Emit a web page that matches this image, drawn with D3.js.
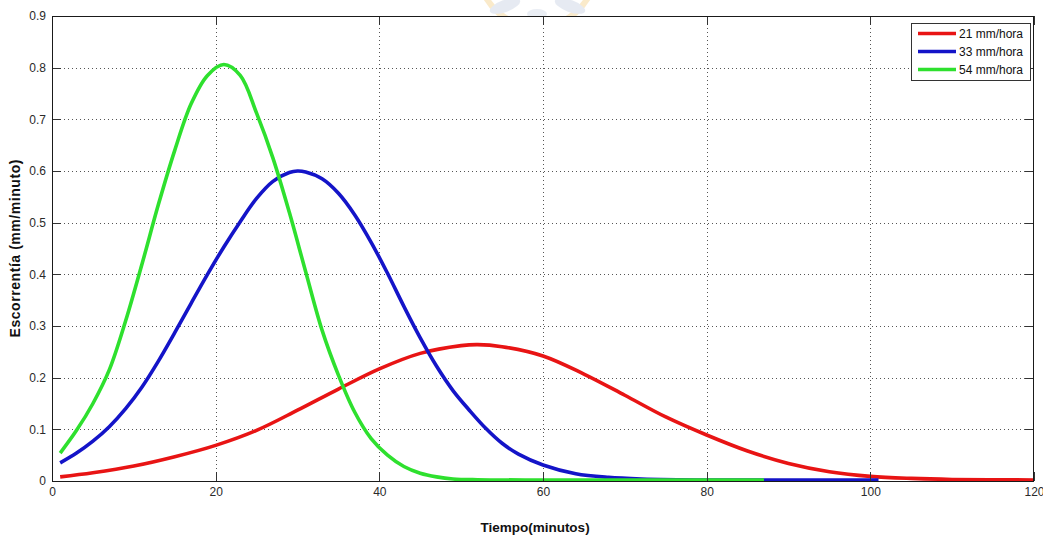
<!DOCTYPE html>
<html>
<head>
<meta charset="utf-8">
<script src="https://cdn.jsdelivr.net/npm/d3@7"></script>
<style>
  html, body { margin: 0; padding: 0; background: #fff; }
  svg { display: block; font-family: "Liberation Sans", Arial, Helvetica, sans-serif; }
</style>
</head>
<body>
<svg id="chart" width="1043" height="539"></svg>
<script>
// Runoff hydrographs for three rainfall intensities
const seriesNames = ["21 mm/hora", "33 mm/hora", "54 mm/hora"];
const seriesColors = ["#e81414", "#1414c8", "#2ee02e"];

const t21 = [1, 5, 10, 15, 20, 25, 30, 35, 40, 45, 50, 52, 55, 60, 65, 70, 75, 80, 85, 90, 95, 100, 105, 110, 120];
const v21 = [0.008, 0.016, 0.029, 0.047, 0.069, 0.098, 0.137, 0.178, 0.217, 0.247, 0.262, 0.264, 0.260, 0.242, 0.207, 0.166, 0.124, 0.089, 0.058, 0.034, 0.018, 0.009, 0.005, 0.003, 0.002];

const t33 = [1, 3, 5, 7, 9, 11, 13, 15, 17, 19, 21, 23, 25, 27, 29, 30, 31, 33, 35, 37, 39, 41, 43, 45, 47, 49, 51, 53, 55, 57, 60, 64, 68, 72, 80, 101];
const v33 = [0.035, 0.054, 0.077, 0.105, 0.140, 0.182, 0.232, 0.287, 0.344, 0.400, 0.453, 0.502, 0.547, 0.580, 0.597, 0.600, 0.598, 0.585, 0.557, 0.515, 0.462, 0.402, 0.338, 0.277, 0.222, 0.175, 0.137, 0.102, 0.073, 0.052, 0.031, 0.014, 0.007, 0.004, 0.002, 0.002];

const t54 = [1, 3, 5, 7, 9, 11, 13, 15, 17, 19, 21, 23, 25, 27, 29, 31, 33, 35, 37, 39, 41, 43, 45, 47, 49, 52, 60, 70, 87];
const v54 = [0.054, 0.098, 0.150, 0.215, 0.310, 0.420, 0.535, 0.640, 0.730, 0.785, 0.806, 0.785, 0.712, 0.625, 0.520, 0.405, 0.292, 0.205, 0.133, 0.082, 0.050, 0.028, 0.015, 0.008, 0.004, 0.0025, 0.002, 0.002, 0.002];

const xTicks = [0, 20, 40, 60, 80, 100, 120];
const yTicks = [0, 0.1, 0.2, 0.3, 0.4, 0.5, 0.6, 0.7, 0.8, 0.9];
const xTitle = "Tiempo(minutos)";
const yTitle = "Escorrentía (mm/minuto)";

const series = [
  { name: seriesNames[0], color: seriesColors[0], pts: t21.map((t, i) => [t, v21[i]]) },
  { name: seriesNames[1], color: seriesColors[1], pts: t33.map((t, i) => [t, v33[i]]) },
  { name: seriesNames[2], color: seriesColors[2], pts: t54.map((t, i) => [t, v54[i]]) }
];

const svg = d3.select("#chart");
const plot = { left: 52, top: 16, right: 1034, bottom: 481 };

const x = d3.scaleLinear().domain([0, 120]).range([plot.left, plot.right]);
const y = d3.scaleLinear().domain([0, 0.9]).range([plot.bottom, plot.top]);

// faint crest in the page header
const crest = svg.append("g").attr("opacity", 0.35);
crest.append("path")
  .attr("d", d3.arc()({ innerRadius: 56, outerRadius: 62, startAngle: Math.PI * 0.55, endAngle: Math.PI * 1.45 }))
  .attr("transform", "translate(537,-32)")
  .attr("fill", "#f2c46a");
crest.append("ellipse").attr("cx", 505).attr("cy", 6).attr("rx", 16).attr("ry", 6)
  .attr("transform", "rotate(-20,505,6)").attr("fill", "#b9c6dc");
crest.append("ellipse").attr("cx", 570).attr("cy", 6).attr("rx", 16).attr("ry", 6)
  .attr("transform", "rotate(20,570,6)").attr("fill", "#b9c6dc");
crest.append("ellipse").attr("cx", 537).attr("cy", 14).attr("rx", 10).attr("ry", 5)
  .attr("fill", "#c5d0e2");

// plot background
svg.append("rect")
  .attr("x", plot.left).attr("y", plot.top)
  .attr("width", plot.right - plot.left).attr("height", plot.bottom - plot.top)
  .attr("fill", "#fff");

// dotted grid
const grid = svg.append("g").attr("stroke", "#555").attr("stroke-width", 1)
  .attr("stroke-dasharray", "1,3").attr("shape-rendering", "crispEdges");
xTicks.slice(1, -1).forEach(v => {
  grid.append("line").attr("x1", Math.round(x(v)) + 0.5).attr("x2", Math.round(x(v)) + 0.5)
    .attr("y1", plot.top).attr("y2", plot.bottom);
});
yTicks.slice(1, -1).forEach(v => {
  grid.append("line").attr("y1", Math.round(y(v)) + 0.5).attr("y2", Math.round(y(v)) + 0.5)
    .attr("x1", plot.left).attr("x2", plot.right);
});

// curves
svg.append("clipPath").attr("id", "clip").append("rect")
  .attr("x", plot.left).attr("y", plot.top - 2)
  .attr("width", plot.right - plot.left).attr("height", plot.bottom - plot.top + 2);

const line = d3.line().x(d => x(d[0])).y(d => y(d[1])).curve(d3.curveCatmullRom.alpha(0.5));
const curves = svg.append("g").attr("clip-path", "url(#clip)");
series.forEach(s => {
  curves.append("path")
    .datum(s.pts)
    .attr("d", line)
    .attr("fill", "none")
    .attr("stroke", s.color)
    .attr("stroke-width", 3.6)
    .attr("stroke-linejoin", "round");
});

// axes with inward ticks on every side
const tickLen = 9;
const axisB = d3.axisBottom(x).tickValues(xTicks).tickSizeInner(-tickLen).tickSizeOuter(0).tickPadding(6).tickFormat(d3.format("d"));
const axisT = d3.axisTop(x).tickValues(xTicks).tickSizeInner(-tickLen).tickSizeOuter(0).tickFormat("");
const axisL = d3.axisLeft(y).tickValues(yTicks).tickSizeInner(-tickLen).tickSizeOuter(0).tickPadding(6).tickFormat(d => d === 0 ? "0" : d3.format(".1f")(d));
const axisR = d3.axisRight(y).tickValues(yTicks).tickSizeInner(-tickLen).tickSizeOuter(0).tickFormat("");

function styleAxis(g) {
  g.select(".domain").remove();
  g.selectAll(".tick line").attr("stroke", "#333").attr("stroke-width", 1).attr("shape-rendering", "crispEdges");
  g.selectAll(".tick text").attr("fill", "#2a2a2a").attr("font-size", 12)
    .attr("font-family", "'Liberation Sans', Arial, sans-serif");
}
svg.append("g").attr("transform", `translate(0,${plot.bottom})`).call(axisB).call(styleAxis);
svg.append("g").attr("transform", `translate(0,${plot.top})`).call(axisT).call(styleAxis);
svg.append("g").attr("transform", `translate(${plot.left},0)`).call(axisL).call(styleAxis);
svg.append("g").attr("transform", `translate(${plot.right},0)`).call(axisR).call(styleAxis);

// axes box
svg.append("rect")
  .attr("x", plot.left + 0.5).attr("y", plot.top + 0.5)
  .attr("width", plot.right - plot.left - 1).attr("height", plot.bottom - plot.top)
  .attr("fill", "none").attr("stroke", "#1a1a1a").attr("stroke-width", 1)
  .attr("shape-rendering", "crispEdges");

// axis titles
svg.append("text")
  .attr("x", 535).attr("y", 532)
  .attr("text-anchor", "middle")
  .attr("font-size", 13.5).attr("font-weight", "bold").attr("fill", "#111")
  .text(xTitle);
svg.append("text")
  .attr("transform", `translate(20,${(plot.top + plot.bottom) / 2}) rotate(-90)`)
  .attr("text-anchor", "middle")
  .attr("font-size", 14).attr("font-weight", "bold").attr("fill", "#111")
  .attr("textLength", 178).attr("lengthAdjust", "spacing")
  .text(yTitle);

// legend
const leg = svg.append("g").attr("transform", "translate(911,23)");
leg.append("rect").attr("x", 0.5).attr("y", 0.5).attr("width", 119).attr("height", 57)
  .attr("fill", "#fff").attr("stroke", "#333").attr("stroke-width", 1).attr("shape-rendering", "crispEdges");
series.forEach((s, i) => {
  const cy = 10.5 + i * 18;
  leg.append("line").attr("x1", 7).attr("x2", 45).attr("y1", cy).attr("y2", cy)
    .attr("stroke", s.color).attr("stroke-width", 3.6);
  leg.append("text").attr("x", 48).attr("y", cy + 4)
    .attr("font-size", 12).attr("fill", "#111")
    .text(s.name);
});
</script>
</body>
</html>
